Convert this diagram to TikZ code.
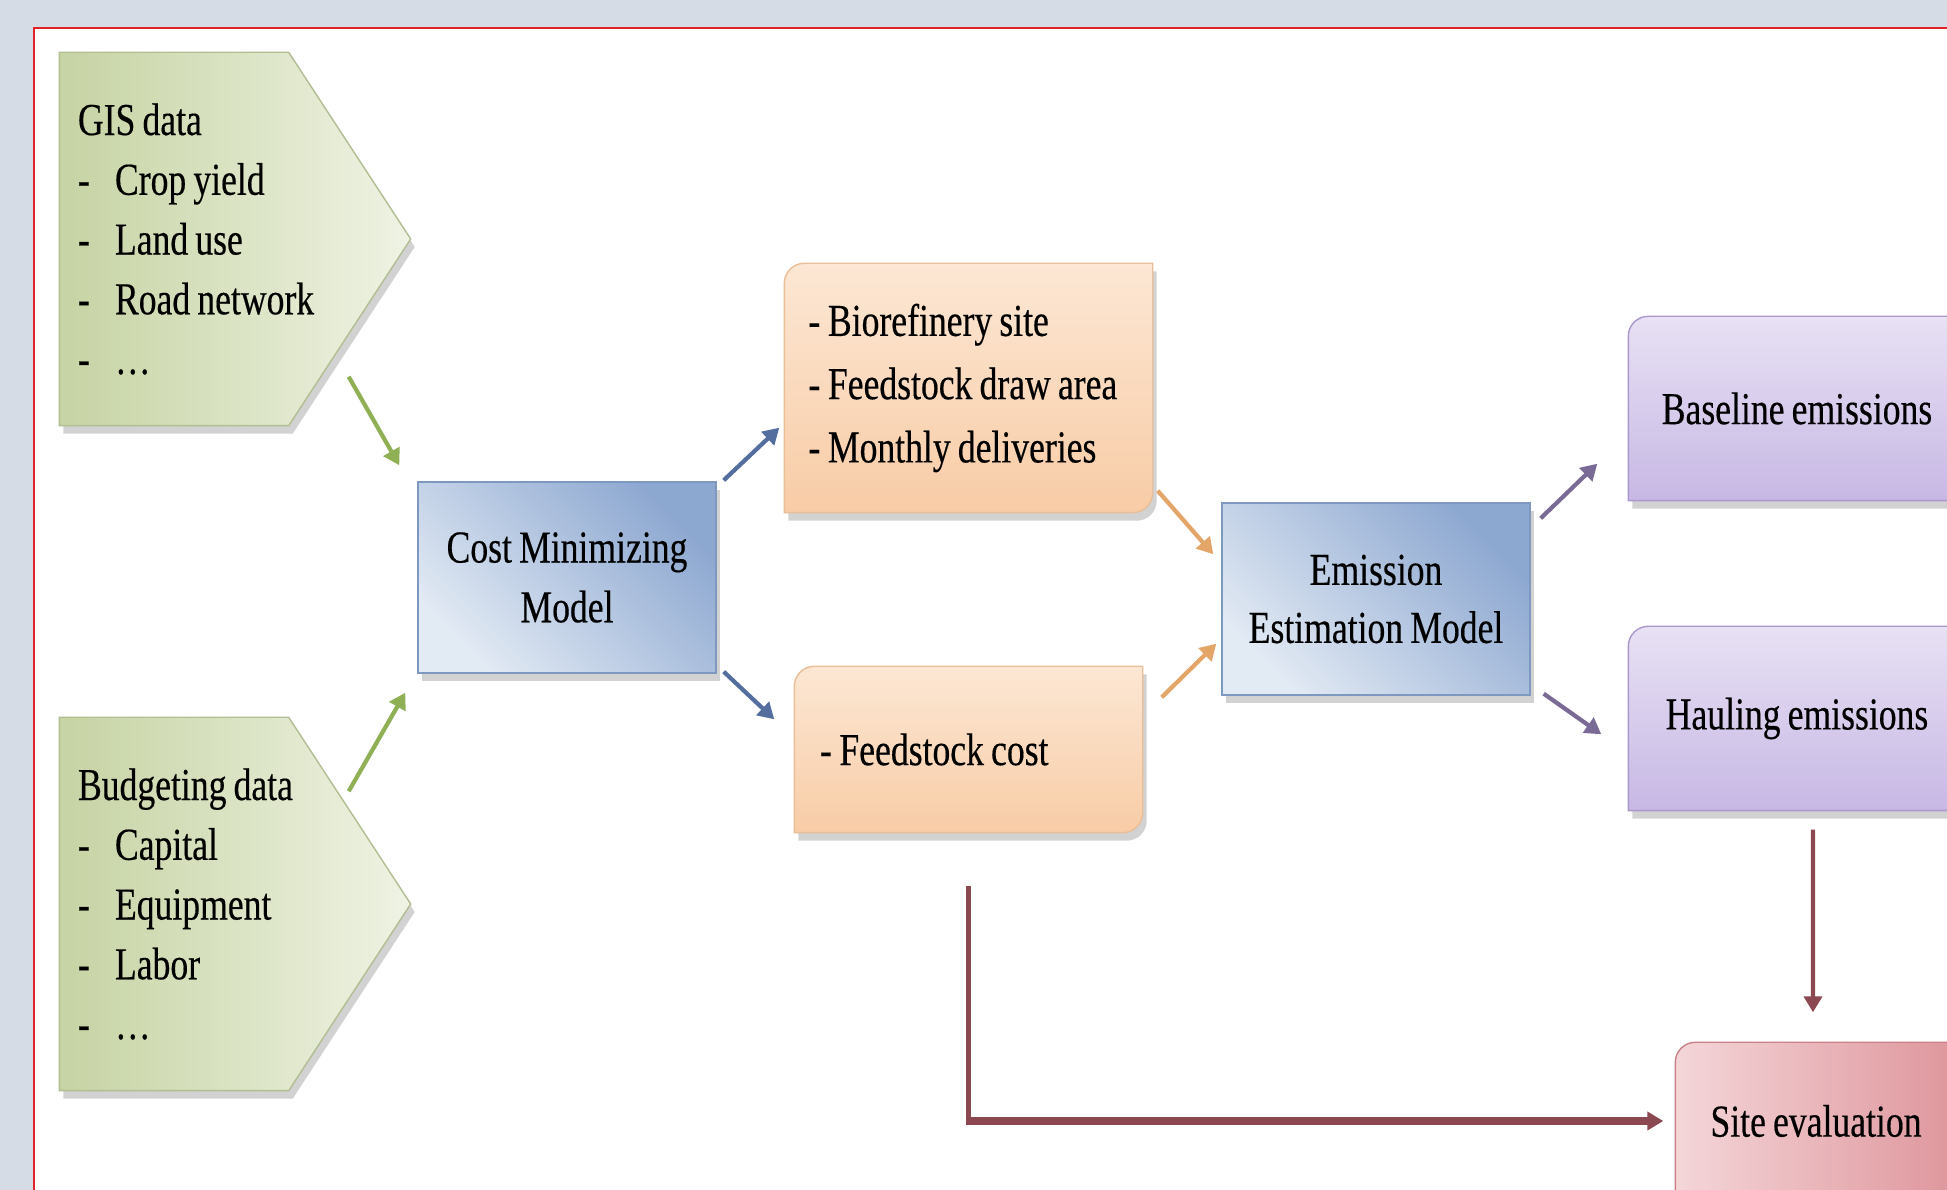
\documentclass[tikz,border=0pt]{standalone}
\usepackage{fontspec}
\setmainfont{Liberation Serif}[FakeStretch=0.78,WordSpace=0.8,FakeBold=0.35]
\usepackage{tikz}
\usetikzlibrary{arrows.meta,shadows}

\definecolor{paper}{RGB}{214,220,230}
\definecolor{framered}{RGB}{224,36,40}
\definecolor{greenA}{RGB}{198,211,163}
\definecolor{greenB}{RGB}{239,243,228}
\definecolor{greenline}{RGB}{176,190,146}
\definecolor{blueA}{RGB}{140,167,208}
\definecolor{blueB}{RGB}{226,234,244}
\definecolor{blueline}{RGB}{126,152,192}
\definecolor{peachA}{RGB}{252,231,212}
\definecolor{peachB}{RGB}{248,204,166}
\definecolor{peachline}{RGB}{234,190,150}
\definecolor{lilacA}{RGB}{232,225,244}
\definecolor{lilacB}{RGB}{199,184,228}
\definecolor{lilacline}{RGB}{170,152,204}
\definecolor{pinkA}{RGB}{244,214,217}
\definecolor{pinkB}{RGB}{222,150,156}
\definecolor{pinkline}{RGB}{200,130,136}
\definecolor{arrgreen}{RGB}{143,176,84}
\definecolor{arrblue}{RGB}{84,110,160}
\definecolor{arrorange}{RGB}{228,166,104}
\definecolor{arrpurple}{RGB}{122,106,150}
\definecolor{arrred}{RGB}{140,72,80}

\pgfdeclarelayer{paperlayer}
\pgfdeclarelayer{shapelayer}
\pgfsetlayers{paperlayer,shapelayer,main}

\begin{document}
\begin{tikzpicture}[
 font=\fontsize{13}{17}\selectfont,
 soft/.style={drop shadow={shadow xshift=0.4mm,shadow yshift=-0.8mm,opacity=0.35}},
 datatext/.style={minimum width=3.5cm,minimum height=3.72cm,text width=3.14cm,align=flush left,inner sep=0},
 plain/.style={inner sep=0,align=center},
 modelbox/.style={soft,draw=blueline,top color=blueA,bottom color=blueB,shading angle=-45,inner sep=0,align=center},
 greenshape/.style={soft,draw=greenline,left color=greenA,right color=greenB},
 peachshape/.style={soft,draw=peachline,top color=peachA,bottom color=peachB},
 lilacshape/.style={soft,draw=lilacline,top color=lilacA,bottom color=lilacB},
 pinkshape/.style={soft,draw=pinkline,left color=pinkA,right color=pinkB},
 diagpath/.style={insert path={(#1.south west) -- ([yshift=-2mm]#1.north west)
   arc[start angle=180,end angle=90,radius=2mm] -- (#1.north east)
   -- ([yshift=2mm]#1.south east) arc[start angle=0,end angle=-90,radius=2mm] -- cycle}},
 arr/.style={-{Triangle[length=1.6mm,width=1.8mm]},line width=1.2pt}
]
\useasboundingbox (0,0) rectangle (19.47,-11.90);
\begin{pgfonlayer}{paperlayer}
\fill[paper] (0,0) rectangle (19.47,-11.90);
\draw[framered,line width=0.8pt,fill=white] (0.34,-0.28) rectangle (20.5,-13);
\end{pgfonlayer}

% inputs
\node[datatext] (gis) at (2.35,-2.39) {GIS data\\
 \makebox[3.7mm][l]{-}Crop yield\\
 \makebox[3.7mm][l]{-}Land use\\
 \makebox[3.7mm][l]{-}Road network\\
 \makebox[3.7mm][l]{-}\ldots};
\node[datatext] (budget) at (2.35,-9.04) {Budgeting data\\
 \makebox[3.7mm][l]{-}Capital\\
 \makebox[3.7mm][l]{-}Equipment\\
 \makebox[3.7mm][l]{-}Labor\\
 \makebox[3.7mm][l]{-}\ldots};

% models
\node[modelbox,minimum width=2.98cm,minimum height=1.91cm] (cmm) at (5.67,-5.775) {Cost Minimizing\\Model};
\node[modelbox,minimum width=3.08cm,minimum height=1.92cm,font=\fontsize{13}{16.5}\selectfont] (eem) at (13.76,-5.99) {Emission\\Estimation Model};

% outputs
\node[plain,minimum width=3.67cm,minimum height=2.48cm,text width=3.2cm,align=flush left,font=\fontsize{13}{18}\selectfont] (outtop) at (9.685,-3.88) {-\,Biorefinery site\\-\,Feedstock draw area\\-\,Monthly deliveries};
\node[plain,minimum width=3.47cm,minimum height=1.65cm,text width=2.97cm,align=flush left] (outbot) at (9.685,-7.495) {-\,Feedstock cost};
\node[plain,minimum width=3.36cm,minimum height=1.83cm] (base) at (17.97,-4.085) {Baseline emissions};
\node[plain,minimum width=3.36cm,minimum height=1.83cm] (haul) at (17.97,-7.185) {Hauling emissions};
\node[plain,minimum width=2.80cm,minimum height=1.56cm] (site) at (18.16,-11.21) {Site evaluation};

\begin{pgfonlayer}{shapelayer}
\foreach \n in {gis,budget}
  \path[greenshape] (\n.north west) -- ([xshift=-12.2mm]\n.north east) -- (\n.east)
    -- ([xshift=-12.2mm]\n.south east) -- (\n.south west) -- cycle;
\foreach \n in {outtop,outbot}
  \path[peachshape] [diagpath=\n];
\foreach \n in {base,haul}
  \path[lilacshape] [diagpath=\n];
\path[pinkshape] [diagpath=site];
\end{pgfonlayer}

\draw[arr,arrgreen] ([shift={(-0.62,0.49)}]gis.south east) -- ([shift={(-0.18,0.16)}]cmm.north west);
\draw[arr,arrgreen] ([shift={(-0.62,-0.74)}]budget.north east) -- ([shift={(-0.12,-0.19)}]cmm.south west);
\draw[arr,arrblue] ([shift={(0.07,0.01)}]cmm.north east) -- ([shift={(-0.05,0.85)}]outtop.south west);
\draw[arr,arrblue] ([shift={(0.07,0.02)}]cmm.south east) -- ([shift={(-0.20,-0.53)}]outbot.north west);
\draw[arr,arrorange] ([shift={(0.05,0.22)}]outtop.south east) -- ([shift={(-0.08,-0.52)}]eem.north west);
\draw[arr,arrorange] ([shift={(0.19,-0.31)}]outbot.north east) -- ([shift={(-0.05,0.52)}]eem.south west);
\draw[arr,arrpurple] ([shift={(0.10,-0.16)}]eem.north east) -- ([shift={(-0.31,0.37)}]base.south west);
\draw[arr,arrpurple] ([shift={(0.13,0.02)}]eem.south east) -- ([shift={(-0.27,-1.08)}]haul.north west);
\draw[arr,arrred] ([xshift=1.6mm,yshift=-1.9mm]haul.south) -- ([xshift=-0.3mm,yshift=3mm]site.north);
\coordinate (bend) at (outbot.south |- site.west);
\draw[arrred,line width=1.2pt] ([yshift=-5.3mm]outbot.south) -- ([yshift=-1.1pt]bend);
\draw[arr,arrred,line width=2.2pt] ([xshift=-0.6pt]bend) -- ([xshift=-1.2mm]site.west);
\end{tikzpicture}
\end{document}
